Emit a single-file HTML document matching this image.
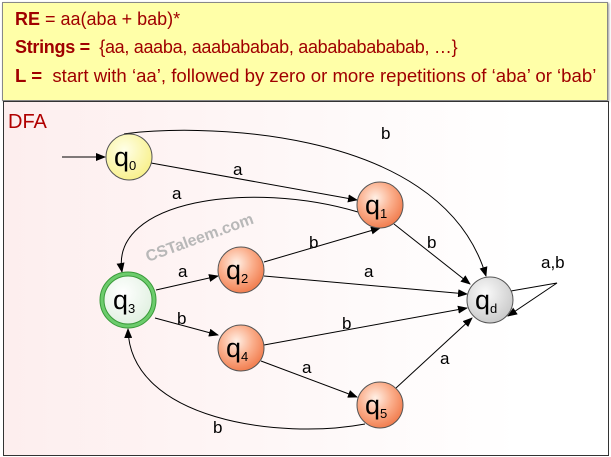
<!DOCTYPE html>
<html><head><style>
body{margin:0;width:611px;height:457px;overflow:hidden;background:#fff;font-family:"Liberation Sans",sans-serif}
.top{position:absolute;left:2px;top:2px;width:604px;height:97px;background:#ffffa8;border:1px solid #888;box-shadow:1px 1px 2px #999}
.top div{position:absolute;left:12px;font-size:18px;color:#a00000;white-space:nowrap}
.panel{position:absolute;left:3px;top:101px;width:604px;height:353px;border:1px solid #333;background:linear-gradient(90deg,#fdeeee,#fff 85%)}
</style></head><body>
<div class="top">
<div style="top:6px"><b>RE</b> = aa(aba + bab)*</div>
<div style="top:34px;letter-spacing:-0.3px"><b>Strings =</b>&nbsp; {aa, aaaba, aaabababab, aabababababab, …}</div>
<div style="top:62px;font-size:18.6px"><b>L =</b>&nbsp; start with ‘aa’, followed by zero or more repetitions of ‘aba’ or ‘bab’</div>
</div>
<div class="panel"></div>
<svg width="611" height="457" style="position:absolute;left:0;top:0" font-family="Liberation Sans,sans-serif">
<defs>
<marker id="ar" markerWidth="10" markerHeight="8" refX="9" refY="4" orient="auto" markerUnits="userSpaceOnUse"><path d="M0,0L10,4L0,8z" fill="#000"/></marker>
<radialGradient id="og" cx="40%" cy="35%" r="70%"><stop offset="0" stop-color="#fff0e6"/><stop offset="0.5" stop-color="#fbb08e"/><stop offset="1" stop-color="#f07848"/></radialGradient>
<radialGradient id="yg" cx="40%" cy="35%" r="70%"><stop offset="0" stop-color="#ffffe8"/><stop offset="1" stop-color="#f8f088"/></radialGradient>
<radialGradient id="gg" cx="40%" cy="35%" r="70%"><stop offset="0" stop-color="#fff"/><stop offset="1" stop-color="#e0f0e0"/></radialGradient>
<radialGradient id="dg" cx="40%" cy="35%" r="70%"><stop offset="0" stop-color="#fafafa"/><stop offset="1" stop-color="#c8c8c8"/></radialGradient>
</defs>
<text x="8" y="128" font-size="20" fill="#b00000">DFA</text>
<text x="148" y="262" font-size="16" font-weight="bold" fill="#b8b8b8" transform="rotate(-20 148 262)">CSTaleem.com</text>
<g stroke="#000" stroke-width="1" fill="none" marker-end="url(#ar)">
<path d="M62,157 L105,157"/>
<path d="M151,163 L357,200"/>
<path d="M124,134 C180,125 440,120 486,276"/>
<path d="M358,212 C250,180 110,200 122,272"/>
<path d="M394,224 L470,284"/>
<path d="M156,290 L218,276"/>
<path d="M264,262 L380,228"/>
<path d="M264,276 L467,294"/>
<path d="M155,318 L218,335"/>
<path d="M264,345 L467,308"/>
<path d="M261,361 L357,397"/>
<path d="M396,388 L472,318"/>
<path d="M365,424 C280,440 130,420 128,329"/>
<path d="M505,292 L557,283 L508,316"/>
</g>
<g font-size="17" fill="#000">
<text x="381" y="139">b</text><text x="233" y="175">a</text><text x="172" y="199">a</text>
<text x="427" y="248">b</text><text x="178" y="277">a</text><text x="309" y="248">b</text>
<text x="364" y="277">a</text><text x="177" y="324">b</text><text x="342" y="329">b</text>
<text x="302" y="373">a</text><text x="440" y="364">a</text><text x="213" y="433">b</text>
<text x="541" y="268">a,b</text>
</g>
<circle cx="129" cy="157" r="23" fill="url(#yg)" stroke="#555"/>
<circle cx="380" cy="205" r="23" fill="url(#og)" stroke="#555"/>
<circle cx="241" cy="270" r="23" fill="url(#og)" stroke="#555"/>
<circle cx="241" cy="348" r="23" fill="url(#og)" stroke="#555"/>
<circle cx="380" cy="405" r="23" fill="url(#og)" stroke="#555"/>
<circle cx="490" cy="300" r="23" fill="url(#dg)" stroke="#555"/>
<circle cx="128" cy="300" r="28" fill="#6ccc6c" stroke="#3a9a3a"/>
<circle cx="128" cy="300" r="24" fill="url(#gg)" stroke="#3a9a3a"/>
<g font-size="27" fill="#000">
<text x="114" y="166">q<tspan font-size="13" dy="4">0</tspan></text>
<text x="365" y="214">q<tspan font-size="13" dy="4">1</tspan></text>
<text x="226" y="279">q<tspan font-size="13" dy="4">2</tspan></text>
<text x="113" y="309">q<tspan font-size="13" dy="4">3</tspan></text>
<text x="226" y="357">q<tspan font-size="13" dy="4">4</tspan></text>
<text x="365" y="414">q<tspan font-size="13" dy="4">5</tspan></text>
<text x="475" y="309">q<tspan font-size="13" dy="4">d</tspan></text>
</g>
</svg>
</body></html>
